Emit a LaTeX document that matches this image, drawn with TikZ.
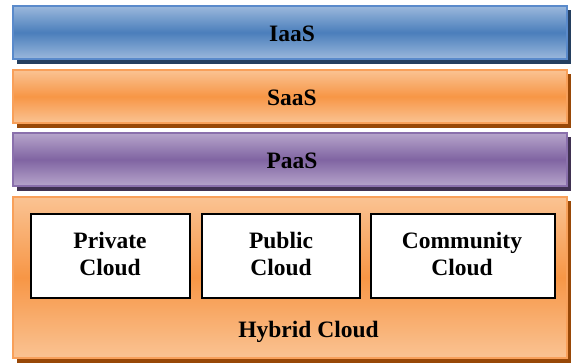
\documentclass[tikz,border=0pt]{standalone}
\usepackage{fontspec}
\setmainfont{Liberation Serif}
\begin{document}
\begin{tikzpicture}[x=1pt,y=1pt,
  layer/.style={draw=#1border, line width=1.8pt, shading=axis,
    top color=#1light, bottom color=#1light, middle color=#1mid},
  lbl/.style={font=\fontsize{23.5}{27}\selectfont\bfseries, align=center,
    text=black, inner sep=0pt},
  cloudbox/.style={draw=black, line width=1.6pt, fill=white, minimum height=84pt,
    inner sep=0pt}]
\definecolor{blueborder}{HTML}{5A8ACB}
\definecolor{bluelight}{HTML}{9BB8DC}
\definecolor{bluemid}{HTML}{4A7EBB}
\definecolor{blueshadow}{HTML}{243F60}
\definecolor{orangeborder}{HTML}{F8A05A}
\definecolor{orangelight}{HTML}{FAC393}
\definecolor{orangemid}{HTML}{F79646}
\definecolor{orangeshadow}{HTML}{984807}
\definecolor{purpleborder}{HTML}{8A70AC}
\definecolor{purplelight}{HTML}{B6A5CB}
\definecolor{purplemid}{HTML}{8064A2}
\definecolor{purpleshadow}{HTML}{3F3151}
\useasboundingbox (0,0) rectangle (571,363);

% drop shadows
\fill[blueshadow]   (17,299) rectangle (571,353);
\fill[orangeshadow] (17,235) rectangle (571,289);
\fill[purpleshadow] (17,172) rectangle (571,226);
\fill[orangeshadow] (17,0)   rectangle (571,162);

% service layers
\path[layer=blue]   (13,304) rectangle (567,357);
\node[lbl, anchor=base] (iaas) at (292,321) {IaaS};
\path[layer=orange] (13,240) rectangle (567,293);
\node[lbl, anchor=base] (saas) at (292,257) {SaaS};
\path[layer=purple] (13,177) rectangle (567,230);
\node[lbl, anchor=base] (paas) at (292,194) {PaaS};

% deployment layer
\path[layer=orange] (13,5) rectangle (567,166);
\node[lbl, anchor=base] (hybrid) at (308.5,25) {Hybrid Cloud};

% deployment models
\node[cloudbox, minimum width=159pt] (private)   at (110.5,107) {};
\node[cloudbox, minimum width=158pt] (public)    at (281,107)   {};
\node[cloudbox, minimum width=184pt] (community) at (463,107)   {};
\node[lbl] (privatetext)   at (110,109) {Private\\Cloud};
\node[lbl] (publictext)    at (281,109) {Public\\Cloud};
\node[lbl] (communitytext) at (462,109) {Community\\Cloud};
\end{tikzpicture}
\end{document}
